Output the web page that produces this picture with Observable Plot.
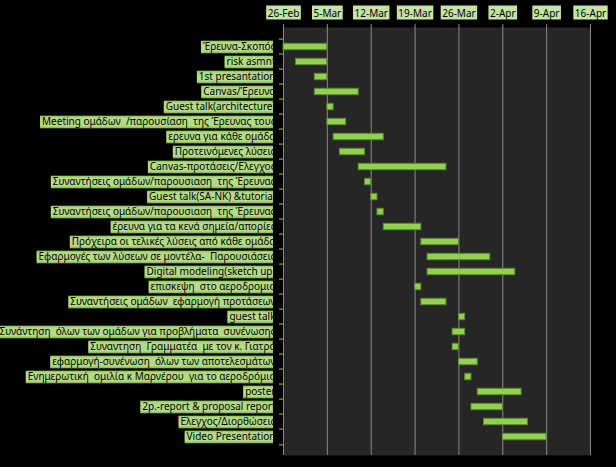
<!DOCTYPE html>
<html><head><meta charset="utf-8">
<script src="https://cdn.jsdelivr.net/npm/d3@7"></script>
<script src="https://cdn.jsdelivr.net/npm/@observablehq/plot@0.6"></script>
<style>
html,body{margin:0;padding:0;background:#000;overflow:hidden;}
</style></head><body><div id="chart"></div>
<script>
const tasks = [
  "Έρευνα-Σκοπός",
  "risk asmnt",
  "1st presantation",
  "Canvas/Έρευνα",
  "Guest talk(architecture)",
  "Meeting ομάδων  /παρουσίαση  της Έρευνας τους",
  "ερευνα για κάθε ομάδα",
  "Προτεινόμενες λύσεις",
  "Canvas-προτάσεις/Ελεγχος",
  "Συναντήσεις ομάδων/παρουσιαση  της Έρευνας",
  "Guest talk(SA-NK) &tutorial",
  "Συναντήσεις ομάδων/παρουσιαση  της Έρευνας",
  "έρευνα για τα κενά σημεία/απορίες",
  "Πρόχειρα οι τελικές λύσεις από κάθε ομάδα",
  "Εφαρμογές των λύσεων σε μοντέλα-  Παρουσιάσεις",
  "Digital modeling(sketch up)",
  "επισκεψη  στο αεροδρομιο",
  "Συναντήσεις ομάδων  εφαρμογή προτάσεων",
  "guest talk",
  "Συνάντηση  όλων των ομάδων για προβλήματα  συνένωσης",
  "Συναντηση  Γραμματέα  με τον κ. Γιατρό",
  "εφαρμογή-συνένωση  όλων των αποτελεσμάτων",
  "Ενημερωτική  ομιλία κ Μαρνέρου  για το αεροδρόμιο",
  "poster",
  "2p.-report & proposal report",
  "Ελεγχος/Διορθώσεις",
  "Video Presentation"
];
const starts = [
  "2019-02-26","2019-02-28","2019-03-03","2019-03-03","2019-03-05","2019-03-05",
  "2019-03-06","2019-03-07","2019-03-10","2019-03-11","2019-03-12","2019-03-13",
  "2019-03-14","2019-03-20","2019-03-21","2019-03-21","2019-03-19","2019-03-20",
  "2019-03-26","2019-03-25","2019-03-25","2019-03-26","2019-03-27","2019-03-29",
  "2019-03-28","2019-03-30","2019-04-02"
];
const ends = [
  "2019-03-05","2019-03-05","2019-03-05","2019-03-10","2019-03-06","2019-03-08",
  "2019-03-14","2019-03-11","2019-03-24","2019-03-12","2019-03-13","2019-03-14",
  "2019-03-20","2019-03-26","2019-03-31","2019-04-04","2019-03-20","2019-03-24",
  "2019-03-27","2019-03-27","2019-03-26","2019-03-29","2019-03-28","2019-04-05",
  "2019-04-02","2019-04-06","2019-04-09"
];
const tickDates = ["2019-02-26","2019-03-05","2019-03-12","2019-03-19","2019-03-26","2019-04-02","2019-04-09","2019-04-16"];
const tickLabels = ["26-Feb","5-Mar","12-Mar","19-Mar","26-Mar","2-Apr","9-Apr","16-Apr"];

const d = s => new Date(s + "T00:00:00Z");
const rows = tasks.map((t, i) => ({i, task: t, start: d(starts[i]), end: d(ends[i])}));
const ticks = tickDates.map(d);
const idx = d3.range(tasks.length);

const W = 616, H = 467, mT = 27, mB = 12, mL = 283, mR = 26;
const bw = (H - mT - mB) / tasks.length;
const FONT = "Noto Sans";

const chart = Plot.plot({
  width: W, height: H,
  marginLeft: mL, marginRight: mR, marginTop: mT, marginBottom: mB,
  style: {background: "#000", fontFamily: FONT, fontSize: "10px", overflow: "visible"},
  x: {type: "utc", domain: [ticks[0], ticks[ticks.length - 1]]},
  y: {type: "band", domain: idx, padding: 0},
  marks: [
    Plot.frame({fill: "#262626", stroke: null}),
    Plot.gridX(ticks, {stroke: "#8a8a8a", strokeOpacity: 1}),
    Plot.barX(rows, {x1: "start", x2: "end", y: "i", fill: "#92d050", stroke: "#5b8a2e", strokeWidth: 1, insetTop: 4.3, insetBottom: 4.3}),
    Plot.axisX(ticks, {anchor: "top", tickFormat: (v, i) => tickLabels[i], tickSize: 4, tickPadding: 7, stroke: "#8a8a8a", fill: "#000", line: true, fontSize: 10}),
    Plot.axisY(idx, {anchor: "left", tickSize: 4, tickFormat: () => "", dy: -bw / 2, stroke: "#92d050", label: null}),
    Plot.axisY([idx[idx.length - 1]], {anchor: "left", tickSize: 4, tickFormat: () => "", dy: bw / 2, stroke: "#92d050", label: null}),
    Plot.axisY(idx, {anchor: "left", tickSize: 0, tickPadding: 8, tickFormat: i => tasks[i], fill: "#000", label: null, stroke: "#92d050", line: true})
  ]
});
document.getElementById("chart").append(chart);

// decorate labels with Excel-like green boxes
const NS = "http://www.w3.org/2000/svg";
const defs = document.createElementNS(NS, "defs");
defs.innerHTML = `
  <linearGradient id="gy" x1="0" y1="0" x2="0" y2="1">
    <stop offset="0" stop-color="#8fc45c"/><stop offset="0.2" stop-color="#b4dc88"/>
    <stop offset="0.8" stop-color="#b4dc88"/><stop offset="1" stop-color="#7fb24c"/>
  </linearGradient>
  <clipPath id="clipY" clipPathUnits="userSpaceOnUse"><rect x="0" y="0" width="${mL - 10}" height="${H}"/></clipPath>`;
chart.insertBefore(defs, chart.firstChild);

const yLabelGroups = chart.querySelectorAll('g[aria-label="y-axis tick label"]');
const yLab = yLabelGroups[yLabelGroups.length - 1];
const wrap = document.createElementNS(NS, "g");
wrap.setAttribute("clip-path", "url(#clipY)");
yLab.parentNode.insertBefore(wrap, yLab);
wrap.appendChild(yLab);
yLab.querySelectorAll("text").forEach(t => {
  const bb = t.getBBox();
  const r = document.createElementNS(NS, "rect");
  r.setAttribute("x", bb.x - 2);
  r.setAttribute("width", -2 - (bb.x - 2));
  r.setAttribute("y", -6.3);
  r.setAttribute("height", 12.6);
  r.setAttribute("fill", "url(#gy)");
  if (t.getAttribute("transform")) r.setAttribute("transform", t.getAttribute("transform"));
  t.parentNode.insertBefore(r, t);
});

const xLab = chart.querySelector('g[aria-label="x-axis tick label"]');
xLab.querySelectorAll("text").forEach(t => {
  const bb = t.getBBox();
  const r = document.createElementNS(NS, "rect");
  r.setAttribute("x", bb.x - 1.5);
  r.setAttribute("width", bb.width + 3);
  r.setAttribute("y", bb.y);
  r.setAttribute("height", bb.height);
  r.setAttribute("fill", "#c4e3a4");
  if (t.getAttribute("transform")) r.setAttribute("transform", t.getAttribute("transform"));
  t.parentNode.insertBefore(r, t);
});
</script>
</body></html>
